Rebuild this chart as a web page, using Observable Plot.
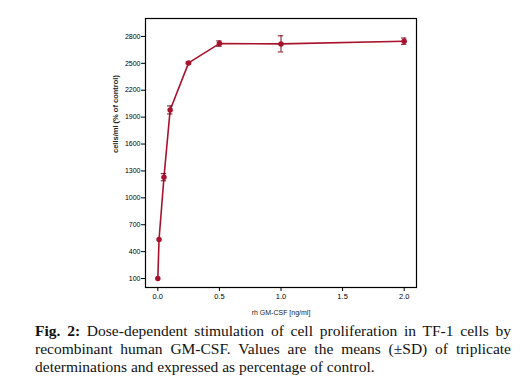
<!DOCTYPE html>
<html><head><meta charset="utf-8">
<script src="https://cdn.jsdelivr.net/npm/d3@7"></script>
<script src="https://cdn.jsdelivr.net/npm/@observablehq/plot@0.6"></script>
<style>
body{margin:0;background:#fff;}
#cap{font-family:"Liberation Serif","Times New Roman",serif;font-size:15.5px;line-height:18px;color:#111;width:476px;margin-left:35px;margin-top:0px;}
#cap div{text-align:justify;text-align-last:justify;}
#cap div.last{text-align-last:left;}
</style></head>
<body>
<div id="chart"></div>
<div id="cap">
<div><b>Fig. 2:</b> Dose-dependent stimulation of cell proliferation in TF-1 cells by</div>
<div>recombinant human GM-CSF. Values are the means (±SD) of triplicate</div>
<div class="last">determinations and expressed as percentage of control.</div>
</div>
<script>
const dose = [0, 0.01, 0.05, 0.1, 0.25, 0.5, 1.0, 2.0];
const cells = [100, 535, 1230, 1980, 2505, 2720, 2717, 2747];
const sd = [0, 0, 40, 45, 10, 30, 90, 35];
const yTicks = [100, 400, 700, 1000, 1300, 1600, 1900, 2200, 2500, 2800];
const xTicks = [0, 0.5, 1.0, 1.5, 2.0];

const data = dose.map((d, i) => ({dose: d, cells: cells[i], sd: sd[i]}));
const capHalf = 0.022;
const bars = data.filter(d => d.sd > 0);
const col = "#a8122c";

const plot = Plot.plot({
  width: 526, height: 322,
  marginLeft: 145, marginRight: 110, marginTop: 18, marginBottom: 35,
  style: {fontFamily: "Liberation Sans, Arial, sans-serif", fontSize: "7px", background: "#fff"},
  x: {domain: [-0.1, 2.1], ticks: xTicks, tickFormat: d3.format(".1f"), tickSize: 4, label: null},
  y: {domain: [0, 3000], ticks: yTicks, tickFormat: d3.format("d"), tickSize: 4, label: null},
  marks: [
    Plot.frame({stroke: "#000", strokeWidth: 1.2}),
    Plot.axisY({ticks: yTicks, tickFormat: d3.format("d"), tickSize: 4, tickPadding: 1, fontSize: 7, stroke: "#000"}),
    Plot.axisX({ticks: xTicks, tickFormat: d3.format(".1f"), tickSize: 4, tickPadding: 2, fontSize: 7.5}),
    Plot.line(data, {x: "dose", y: "cells", stroke: col, strokeWidth: 1.6}),
    Plot.ruleX(bars, {x: "dose", y1: d => d.cells - d.sd, y2: d => d.cells + d.sd, stroke: "#7a0f20", strokeWidth: 1}),
    Plot.ruleY(bars, {y: d => d.cells - d.sd, x1: d => d.dose - capHalf, x2: d => d.dose + capHalf, stroke: "#7a0f20", strokeWidth: 1}),
    Plot.ruleY(bars, {y: d => d.cells + d.sd, x1: d => d.dose - capHalf, x2: d => d.dose + capHalf, stroke: "#7a0f20", strokeWidth: 1}),
    Plot.dot(data, {x: "dose", y: "cells", r: 2, fill: col, stroke: col}),
    Plot.text(["cells/ml (% of control)"], {frameAnchor: "left", dx: -30, rotate: -90, fontSize: 7.5, fontWeight: "bold", fill: "#222"}),
    Plot.text(["rh GM-CSF [ng/ml]"], {frameAnchor: "bottom", dy: 27, fontSize: 7, fill: "#222"})
  ]
});
document.getElementById("chart").appendChild(plot);
</script>
</body></html>
